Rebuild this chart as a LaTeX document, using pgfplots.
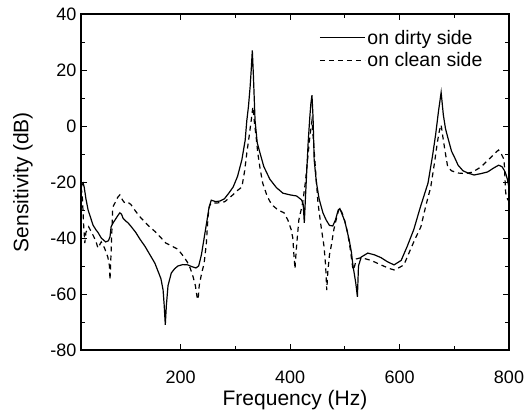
\documentclass[border=0pt]{standalone}
\usepackage{pgfplots}
\pgfplotsset{compat=1.18}
\usepackage{fontspec}
\setmainfont{Liberation Sans}
\begin{document}
\begin{tikzpicture}
\begin{axis}[
  name=ax,
  scale only axis,
  width=428pt, height=336pt,
  xmin=18, xmax=800,
  ymin=-80, ymax=40,
  xtick={200,400,600,800},
  ytick={-80,-60,...,40},
  minor x tick num=1,
  minor y tick num=1,
  tick align=inside,
  major tick length=6pt,
  minor tick length=4pt,
  axis line style={line width=1.1pt},
  every tick/.style={line width=0.9pt, black},
  /pgf/number format/assume math mode=true,
  ticklabel style={font=\fontsize{18}{20}\selectfont},
  xticklabel shift=17pt,
  yticklabel shift=1pt,
  xlabel={Frequency (Hz)},
  ylabel={Sensitivity (dB)},
  label style={font=\fontsize{21}{23}\selectfont},
  xlabel style={at={(axis description cs:0.5,-0.149)}, anchor=center},
  ylabel style={at={(axis description cs:-0.1355,0.5)}, anchor=center},
  legend style={at={(rel axis cs:0.95,0.965)}, anchor=north east, draw=none, fill=none,
    font=\fontsize{19.5}{21}\selectfont, row sep=3pt, nodes={inner xsep=2pt}},
  legend cell align=left,
  legend image code/.code={\draw[#1] (0pt,0pt) -- (45pt,0pt);},
]
% on dirty side
\addplot[black, line width=1.2pt] coordinates {
(18,-22) (20,-21) (22,-20.4) (24,-22) (27,-26) (31,-30) (36,-33) (40,-35.4) (45,-37)
(49,-38) (55,-40) (63,-41.4) (68,-41) (71,-39.6) (73,-36) (77,-34.5) (80,-33.6)
(86,-31.8) (89,-31) (92,-31.5) (95,-33) (100,-34) (104,-34.6) (110,-36) (118,-38)
(126,-40.5) (135,-43) (144,-46) (153,-49) (159,-52) (164,-54.5) (168,-58.6)
(170,-64) (172,-71) (174,-64) (177,-57) (183,-52.5) (189,-51) (195,-50) (204,-49.5)
(213,-49.6) (220,-50.2) (228,-50.7) (233,-50) (238,-46) (243,-40) (248,-34) (252,-29)
(256,-26.5) (264,-27) (272,-26.8) (280,-26) (288,-24) (296,-21.8) (304,-18) (312,-12)
(318,-5) (321,2) (324,7) (327,14) (329,20) (331,27) (333,18) (336,2) (340,-6)
(345,-9.6) (352,-14.5) (363,-19) (375,-22) (387,-24) (400,-24.6) (412,-25) (421,-26.4)
(424,-28) (426,-34.6) (428,-26) (430,-18) (433,-6) (436,3) (438,8) (440,11)
(442,3) (444,-12) (448,-20) (453,-26) (460,-31) (466,-33.6) (472,-35.5) (478,-35.7)
(483,-33.5) (488,-30) (491,-29.5) (494,-31) (500,-34) (508,-40.7) (512,-45) (515,-50)
(520,-56) (523,-61) (525,-50) (530,-46.8) (542,-45.4) (554,-46) (566,-47) (578,-48.5)
(590,-49.6) (603,-48) (614,-43) (626,-37) (638,-29) (652,-20.4) (660,-11) (666,-3)
(671,5) (676,12) (680,4) (684,-1) (688,-4) (695,-9) (700,-11) (707,-14) (716,-16)
(725,-16.8) (736,-17.5) (749,-17) (761,-16.4) (772,-15) (781,-14) (787,-14.5)
(791,-15.7) (794,-17) (797,-19) (800,-22)
};
\addlegendentry{on dirty side}
% on clean side
\addplot[black, line width=1.2pt, dash pattern=on 5pt off 4pt] coordinates {
(18,-22) (20,-24) (21,-27.5) (23,-36) (25,-41.8) (27,-38) (32,-36) (40,-39) (45,-41)
(49,-43.6) (55,-41.4) (61,-43.6) (67,-46.8) (70,-50) (71,-55) (73,-45) (76,-29)
(80,-27.5) (85,-25.5) (89,-24.6) (94,-26.5) (98,-27.5) (104,-27.3) (109,-28)
(118,-30.5) (126,-32.5) (140,-35.4) (155,-38) (173,-41.8) (185,-43) (195,-44)
(205,-46.5) (212,-48.5) (218,-51) (223,-54) (227,-57) (230,-61) (232,-62) (234,-57)
(238,-53) (243,-49) (247,-42) (250,-32.5) (253,-28.5) (256,-27.5) (266,-27.5)
(276,-27.3) (281,-27) (290,-25.5) (296,-24.5) (304,-23) (312,-21.8) (317,-16)
(321,-9.6) (325,-4) (329,2) (332,6.8) (335,1) (338,-4) (341,-9.6) (345,-15)
(350,-20.4) (358,-25) (366,-28) (378,-30) (389,-31) (396,-33.6) (402,-37) (405,-40)
(407,-46) (409,-51) (411,-45) (414,-38) (416,-33.6) (423,-27.5) (428,-20) (432,-12)
(436,-4) (440,2) (443,-6) (447,-17) (451,-27.5) (456,-35) (462,-43) (465,-50)
(467,-58.6) (469,-52) (472,-46) (475,-43) (480,-37) (484,-33.6) (488,-30.5)
(491,-29.3) (495,-31) (500,-34) (505,-38) (510,-44) (515,-51.4) (518,-50)
(521,-47.5) (530,-47) (548,-48) (566,-49.6) (580,-50.8) (590,-51.4) (600,-50.5)
(608,-49.6) (618,-45) (628,-40.5) (639,-36) (648,-28.5) (657,-21.8) (664,-13)
(669,-6) (673,-1.5) (676,0.4) (680,-5) (684,-10) (688,-14.6) (695,-16) (707,-16.8)
(720,-17) (733,-16.5) (749,-14.6) (760,-12.5) (771,-10.4) (777,-9.2) (781,-8.6)
(786,-10) (791,-12) (794,-24) (797,-26) (800,-27)
};
\addlegendentry{on clean side}
\end{axis}
\path (ax.south west) ++(-81pt,-64pt) rectangle ++(528pt,414pt);
\end{tikzpicture}
\end{document}
